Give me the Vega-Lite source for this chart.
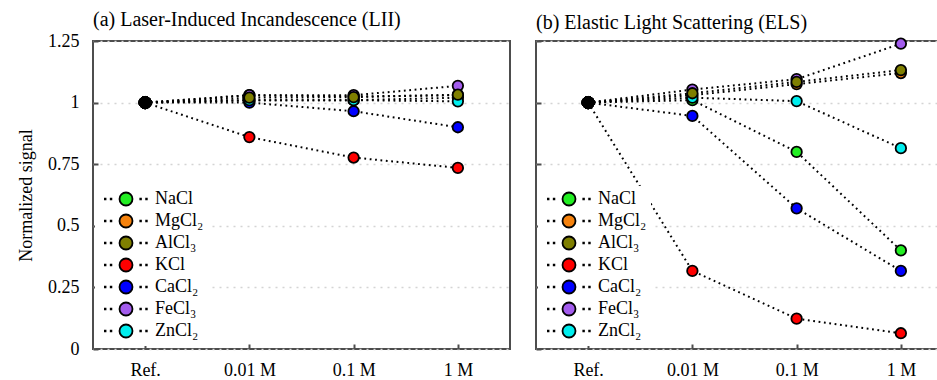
{
  "$schema": "https://vega.github.io/schema/vega-lite/v6.json",
  "padding": {"left": 16, "top": 9, "right": 0, "bottom": 0},
  "background": "white",
  "datasets": {
    "sig": [
      {"p": "LII", "salt": "NaCl", "conc": "Ref.", "v": 1},
      {"p": "LII", "salt": "NaCl", "conc": "0.01 M", "v": 1.01},
      {"p": "LII", "salt": "NaCl", "conc": "0.1 M", "v": 1.01},
      {"p": "LII", "salt": "NaCl", "conc": "1 M", "v": 1.02},
      {"p": "LII", "salt": "MgCl₂", "conc": "Ref.", "v": 1},
      {"p": "LII", "salt": "MgCl₂", "conc": "0.01 M", "v": 1.03},
      {"p": "LII", "salt": "MgCl₂", "conc": "0.1 M", "v": 1.025},
      {"p": "LII", "salt": "MgCl₂", "conc": "1 M", "v": 1.03},
      {"p": "LII", "salt": "KCl", "conc": "Ref.", "v": 1},
      {"p": "LII", "salt": "KCl", "conc": "0.01 M", "v": 0.86},
      {"p": "LII", "salt": "KCl", "conc": "0.1 M", "v": 0.777},
      {"p": "LII", "salt": "KCl", "conc": "1 M", "v": 0.735},
      {"p": "LII", "salt": "CaCl₂", "conc": "Ref.", "v": 1},
      {"p": "LII", "salt": "CaCl₂", "conc": "0.01 M", "v": 1.0},
      {"p": "LII", "salt": "CaCl₂", "conc": "0.1 M", "v": 0.965},
      {"p": "LII", "salt": "CaCl₂", "conc": "1 M", "v": 0.9},
      {"p": "LII", "salt": "FeCl₃", "conc": "Ref.", "v": 1},
      {"p": "LII", "salt": "FeCl₃", "conc": "0.01 M", "v": 1.03},
      {"p": "LII", "salt": "FeCl₃", "conc": "0.1 M", "v": 1.03},
      {"p": "LII", "salt": "FeCl₃", "conc": "1 M", "v": 1.068},
      {"p": "LII", "salt": "ZnCl₂", "conc": "Ref.", "v": 1},
      {"p": "LII", "salt": "ZnCl₂", "conc": "0.01 M", "v": 1.01},
      {"p": "LII", "salt": "ZnCl₂", "conc": "0.1 M", "v": 1.01},
      {"p": "LII", "salt": "ZnCl₂", "conc": "1 M", "v": 1.005},
      {"p": "LII", "salt": "AlCl₃", "conc": "Ref.", "v": 1},
      {"p": "LII", "salt": "AlCl₃", "conc": "0.01 M", "v": 1.02},
      {"p": "LII", "salt": "AlCl₃", "conc": "0.1 M", "v": 1.022},
      {"p": "LII", "salt": "AlCl₃", "conc": "1 M", "v": 1.032},
      {"p": "ELS", "salt": "NaCl", "conc": "Ref.", "v": 1},
      {"p": "ELS", "salt": "NaCl", "conc": "0.01 M", "v": 1.01},
      {"p": "ELS", "salt": "NaCl", "conc": "0.1 M", "v": 0.8},
      {"p": "ELS", "salt": "NaCl", "conc": "1 M", "v": 0.4},
      {"p": "ELS", "salt": "MgCl₂", "conc": "Ref.", "v": 1},
      {"p": "ELS", "salt": "MgCl₂", "conc": "0.01 M", "v": 1.03},
      {"p": "ELS", "salt": "MgCl₂", "conc": "0.1 M", "v": 1.075},
      {"p": "ELS", "salt": "MgCl₂", "conc": "1 M", "v": 1.12},
      {"p": "ELS", "salt": "KCl", "conc": "Ref.", "v": 1},
      {"p": "ELS", "salt": "KCl", "conc": "0.01 M", "v": 0.317},
      {"p": "ELS", "salt": "KCl", "conc": "0.1 M", "v": 0.123},
      {"p": "ELS", "salt": "KCl", "conc": "1 M", "v": 0.064},
      {"p": "ELS", "salt": "CaCl₂", "conc": "Ref.", "v": 1},
      {"p": "ELS", "salt": "CaCl₂", "conc": "0.01 M", "v": 0.946},
      {"p": "ELS", "salt": "CaCl₂", "conc": "0.1 M", "v": 0.571},
      {"p": "ELS", "salt": "CaCl₂", "conc": "1 M", "v": 0.317},
      {"p": "ELS", "salt": "FeCl₃", "conc": "Ref.", "v": 1},
      {"p": "ELS", "salt": "FeCl₃", "conc": "0.01 M", "v": 1.053},
      {"p": "ELS", "salt": "FeCl₃", "conc": "0.1 M", "v": 1.095},
      {"p": "ELS", "salt": "FeCl₃", "conc": "1 M", "v": 1.239},
      {"p": "ELS", "salt": "ZnCl₂", "conc": "Ref.", "v": 1},
      {"p": "ELS", "salt": "ZnCl₂", "conc": "0.01 M", "v": 1.02},
      {"p": "ELS", "salt": "ZnCl₂", "conc": "0.1 M", "v": 1.006},
      {"p": "ELS", "salt": "ZnCl₂", "conc": "1 M", "v": 0.815},
      {"p": "ELS", "salt": "AlCl₃", "conc": "Ref.", "v": 1},
      {"p": "ELS", "salt": "AlCl₃", "conc": "0.01 M", "v": 1.038},
      {"p": "ELS", "salt": "AlCl₃", "conc": "0.1 M", "v": 1.084},
      {"p": "ELS", "salt": "AlCl₃", "conc": "1 M", "v": 1.132}
    ]
  },
  "data": {"name": "sig"},
  "spacing": 23,
  "resolve": {"legend": {"fill": "independent"}},
  "hconcat": [
    {
      "title": {"text": "(a) Laser-Induced Incandescence (LII)"},
      "width": 417,
      "height": 308,
      "transform": [{"filter": "datum.p == 'LII'"}],
      "encoding": {
        "x": {"field": "conc", "type": "ordinal", "sort": ["Ref.", "0.01 M", "0.1 M", "1 M"], "scale": {"type": "point", "padding": 0.5}, "axis": {"labelAngle": 0}},
        "y": {"field": "v", "type": "quantitative", "scale": {"domain": [0, 1.25], "nice": false, "zero": false}, "axis": {"values": [0, 0.25, 0.5, 0.75, 1, 1.25], "labelExpr": "'' + datum.value", "title": "Normalized signal"}}
      },
      "layer": [
        {
          "mark": {"type": "line", "color": "black", "strokeWidth": 2, "strokeDash": [1.8, 3.6]},
          "encoding": {"detail": {"field": "salt"}, "order": {"value": null}}
        },
        {
          "transform": [{"filter": "datum.conc != 'Ref.'"}],
          "mark": {"type": "point", "filled": true, "opacity": 1, "size": 110, "stroke": "black", "strokeWidth": 1.8},
          "encoding": {
            "fill": {"field": "salt", "type": "nominal", "scale": {"domain": ["NaCl", "MgCl₂", "AlCl₃", "KCl", "CaCl₂", "FeCl₃", "ZnCl₂"], "range": ["#22ee22", "#f5820d", "#7f7f00", "#ff0000", "#0000ff", "#a35ced", "#00eeee"]}}
          }
        },
        {
          "transform": [{"filter": "datum.conc == 'Ref.'"}],
          "mark": {"type": "point", "filled": true, "opacity": 1, "size": 150, "color": "black", "stroke": "black", "strokeWidth": 1}
        }
      ]
    },
    {
      "title": {"text": "(b) Elastic Light Scattering (ELS)"},
      "width": 417,
      "height": 308,
      "transform": [{"filter": "datum.p == 'ELS'"}],
      "encoding": {
        "x": {"field": "conc", "type": "ordinal", "sort": ["Ref.", "0.01 M", "0.1 M", "1 M"], "scale": {"type": "point", "padding": 0.5}, "axis": {"labelAngle": 0}},
        "y": {"field": "v", "type": "quantitative", "scale": {"domain": [0, 1.25], "nice": false, "zero": false}, "axis": {"values": [0, 0.25, 0.5, 0.75, 1, 1.25], "labels": false, "title": null}}
      },
      "layer": [
        {
          "mark": {"type": "line", "color": "black", "strokeWidth": 2, "strokeDash": [1.8, 3.6]},
          "encoding": {"detail": {"field": "salt"}, "order": {"value": null}}
        },
        {
          "transform": [{"filter": "datum.conc != 'Ref.'"}],
          "mark": {"type": "point", "filled": true, "opacity": 1, "size": 110, "stroke": "black", "strokeWidth": 1.8},
          "encoding": {
            "fill": {"field": "salt", "type": "nominal", "scale": {"domain": ["NaCl", "MgCl₂", "AlCl₃", "KCl", "CaCl₂", "FeCl₃", "ZnCl₂"], "range": ["#22ee22", "#f5820d", "#7f7f00", "#ff0000", "#0000ff", "#a35ced", "#00eeee"]}}
          }
        },
        {
          "transform": [{"filter": "datum.conc == 'Ref.'"}],
          "mark": {"type": "point", "filled": true, "opacity": 1, "size": 150, "color": "black", "stroke": "black", "strokeWidth": 1}
        }
      ]
    }
  ],
  "config": {
    "font": "Liberation Serif",
    "view": {"stroke": "#4d4d4d", "strokeWidth": 2},
    "title": {"anchor": "start", "frame": "group", "font": "Liberation Serif", "fontSize": 20, "fontWeight": "normal", "color": "black", "offset": 2},
    "axis": {
      "domain": false,
      "ticks": true,
      "labelFont": "Liberation Serif",
      "labelFontSize": 18,
      "labelColor": "black",
      "titleFont": "Liberation Serif",
      "titleFontSize": 18,
      "titleFontWeight": "normal",
      "titleColor": "black",
      "tickSize": -5,
      "tickColor": "#4d4d4d",
      "tickWidth": 2,
      "gridColor": "#d4d4d4",
      "gridDash": [2, 5],
      "gridWidth": 1.5
    },
    "axisX": {"title": null, "labelPadding": 17},
    "axisY": {"labelPadding": 19, "titlePadding": 12},
    "legend": {
      "orient": "none",
      "legendX": 2,
      "legendY": 145,
      "title": null,
      "symbolType": "M-1,0A1,1 0 1,0 1,0A1,1 0 1,0 -1,0Z M-3.25,-0.05h0.1v0.1h-0.1Z M-2.35,-0.05h0.1v0.1h-0.1Z M2.2,-0.05h0.1v0.1h-0.1Z M3.1,-0.05h0.1v0.1h-0.1Z",
      "symbolSize": 169,
      "symbolStrokeColor": "black",
      "symbolStrokeWidth": 1.8,
      "symbolOffset": 18,
      "labelFont": "Liberation Serif",
      "labelFontSize": 18,
      "labelColor": "black",
      "labelOffset": 20,
      "rowPadding": 0,
      "fillColor": "white",
      "padding": 4
    }
  }
}
